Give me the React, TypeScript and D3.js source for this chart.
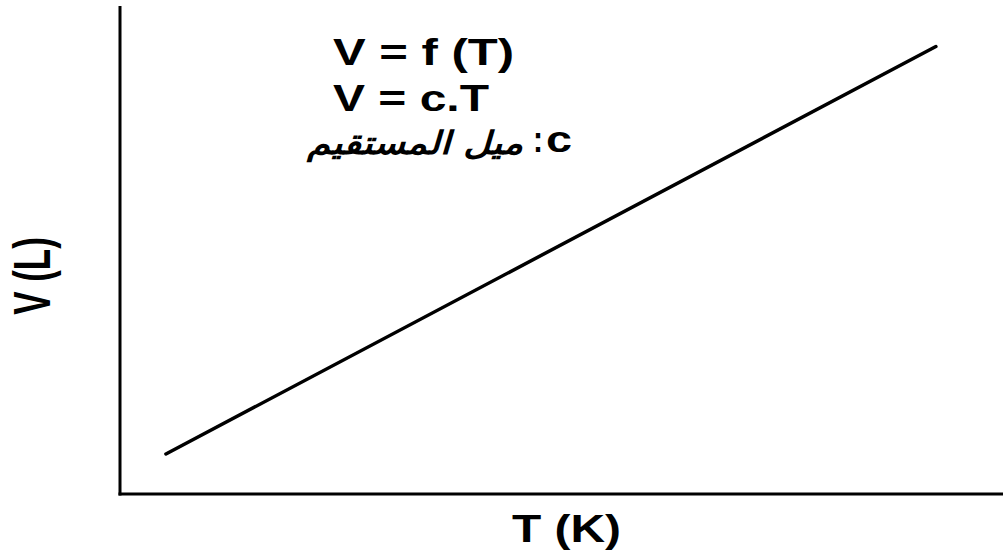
import React from "react";
import * as d3 from "d3";

const temperatureK = [5.2, 92.4];
const volumeL = [8.2, 91.7];
const equationLines = ["V = f (T)", "V = c.T"];
const slopeLabel = "ميل المستقيم";
const xAxisLabel = "T (K)";
const yAxisLabel = "V (L)";

const W = 1003;
const H = 555;
const origin = { x: 120, y: 494 };

export default function App() {
  const x = d3.scaleLinear().domain([0, 100]).range([origin.x, W]);
  const y = d3.scaleLinear().domain([0, 100]).range([origin.y, 6]);
  const pts = temperatureK.map((t, i) => [t, volumeL[i]] as [number, number]);
  const line = d3
    .line<[number, number]>()
    .x((d) => x(d[0]))
    .y((d) => y(d[1]));

  const font = "'Liberation Sans', Arial, sans-serif";

  return (
    <svg
      width={W}
      height={H}
      style={{ position: "absolute", left: 0, top: 0, background: "#fff" }}
    >
      <rect width={W} height={H} fill="#fff" />
      {/* axes */}
      <line x1={x(0)} y1={y(100)} x2={x(0)} y2={y(0) + 1.5} stroke="#000" strokeWidth={3} />
      <line x1={x(0) - 1.5} y1={y(0)} x2={x(100)} y2={y(0)} stroke="#000" strokeWidth={3} />
      {/* data line */}
      <path d={line(pts) || ""} fill="none" stroke="#000" strokeWidth={3.5} strokeLinecap="round" />

      {/* equations */}
      <text x={333} y={65} fontFamily={font} fontWeight="bold" fontSize={36} textLength={181} lengthAdjust="spacingAndGlyphs">
        {equationLines[0]}
      </text>
      <text x={333} y={111} fontFamily={font} fontWeight="bold" fontSize={36} textLength={156} lengthAdjust="spacingAndGlyphs">
        {equationLines[1]}
      </text>
      <text x={546} y={152} fontFamily={font} fontWeight="bold" fontSize={36} textLength={26} lengthAdjust="spacingAndGlyphs">
        c
      </text>
      <text x={533} y={152} fontFamily={font} fontWeight="bold" fontSize={36} textLength={10} lengthAdjust="spacingAndGlyphs">
        :
      </text>
      <text
        x={523}
        y={154}
        fontFamily="'DejaVu Sans', sans-serif"
        fontWeight="bold"
        fontStyle="italic"
        fontSize={32}
        textLength={216}
        lengthAdjust="spacingAndGlyphs"
        direction="rtl"
        textAnchor="start"
      >
        {slopeLabel}
      </text>

      {/* axis labels */}
      <text x={512} y={542} fontFamily={font} fontWeight="bold" fontSize={38} textLength={109} lengthAdjust="spacingAndGlyphs">
        {xAxisLabel}
      </text>
      <text
        transform="translate(50,276) scale(1.5,1) rotate(-90)"
        x={0}
        y={0}
        textAnchor="middle"
        fontFamily={font}
        fontWeight="bold"
        fontSize={35}
      >
        {yAxisLabel}
      </text>
    </svg>
  );
}
